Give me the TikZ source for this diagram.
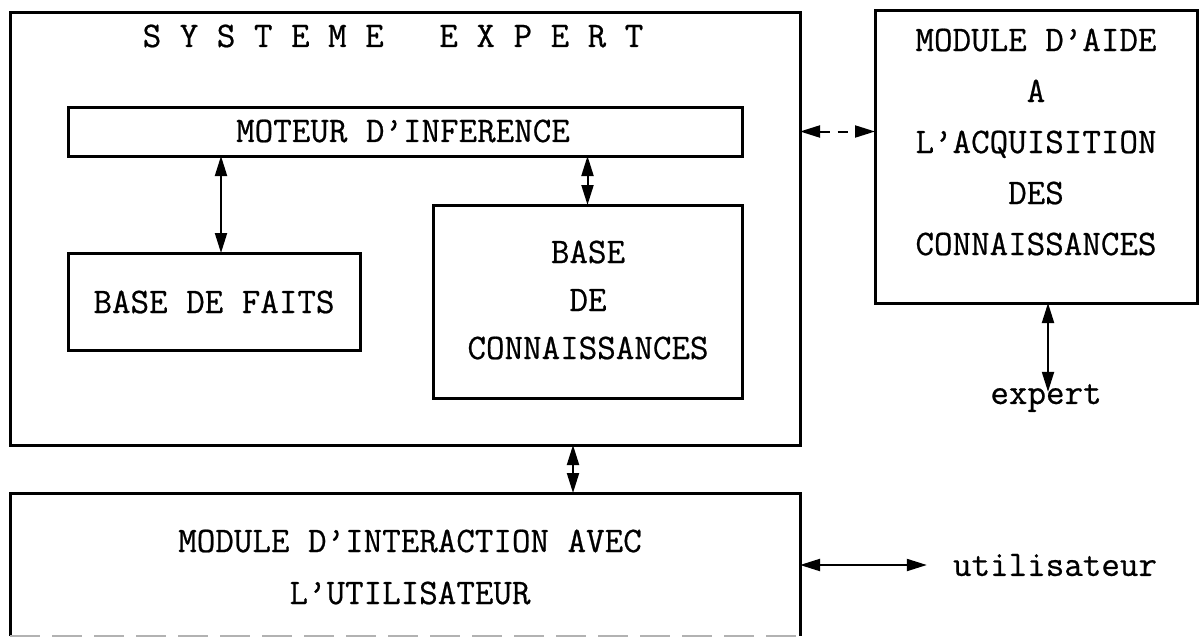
\documentclass[tikz,border=0pt]{standalone}
\usepackage{fontspec}
\setmonofont{Latin Modern Mono}[FakeBold=0.6]
\usetikzlibrary{arrows.meta}
\begin{document}
\begin{tikzpicture}[x=1pt,y=-1pt,
  box/.style={draw, line width=3pt, inner sep=0pt, outer sep=0pt, anchor=north west},
  lbl/.style={font=\fontsize{36}{50}\selectfont\ttfamily, align=center, inner sep=0pt},
  dbl/.style={{Triangle[length=20pt,width=12pt]}-{Triangle[length=20pt,width=12pt]}, line width=2pt}]
\useasboundingbox (0,0) rectangle (1204,637);
% boxes
\node[box, minimum width=790pt, minimum height=433pt] (sys) at (10,12) {};
\node[box, minimum width=674pt, minimum height=49pt] (moteur) at (68,107) {};
\node[box, minimum width=292pt, minimum height=97pt] (faits) at (68,253) {};
\node[box, minimum width=309pt, minimum height=193pt] (conn) at (433,205) {};
\node[box, minimum width=322pt, minimum height=293pt] (aide) at (875,10) {};
\node[inner sep=0pt, outer sep=0pt, anchor=north west, minimum width=790pt, minimum height=143pt] (inter) at (10,493) {};
\draw[line width=3pt] (inter.south west) -- (inter.north west) -- (inter.north east) -- (inter.south east);
\draw[line width=1.5pt, gray!60, dash pattern=on 30pt off 12pt] (inter.south west) -- (inter.south east);
% texts
\node[lbl] (title) at (393,36) {S\ Y\ S\ T\ E\ M\ E\ \ \ E\ X\ P\ E\ R\ T};
\node[lbl] (motxt) at (403,131) {MOTEUR D’INFERENCE};
\node[lbl] (fatxt) at (214,302) {BASE DE FAITS};
\node[lbl, font=\fontsize{36}{48}\selectfont\ttfamily] (cotxt) at (588,300) {BASE\\DE\\CONNAISSANCES};
\node[lbl, font=\fontsize{36}{51}\selectfont\ttfamily] (aitxt) at (1036,142) {MODULE D’AIDE\\A\\L’ACQUISITION\\DES\\CONNAISSANCES};
\node[lbl, font=\fontsize{36}{52}\selectfont\ttfamily] (intxt) at (410,567) {MODULE D’INTERACTION AVEC\\L’UTILISATEUR};
\node[lbl] (expert) at (1046,398) {expert};
\node[lbl] (util) at (1055,565) {utilisateur};
% connectors
\draw[dbl] ([xshift=7pt]faits.north) -- ([xshift=7pt]faits.north |- moteur.south);
\draw[dbl] (conn.north) -- (conn.north |- moteur.south);
\draw[dbl, dash pattern=on 10pt off 8pt] (sys.east |- moteur.east) -- (aide.west |- moteur.east);
\draw[dbl] ([xshift=2pt]expert.north |- aide.south) -- ([xshift=2pt,yshift=-8pt]expert.north);
\draw[dbl] ([xshift=168pt]sys.south) -- ([xshift=168pt]sys.south |- inter.north);
\draw[dbl] (inter.east |- util.west) -- ([xshift=-26pt]util.west);
\end{tikzpicture}
\end{document}
